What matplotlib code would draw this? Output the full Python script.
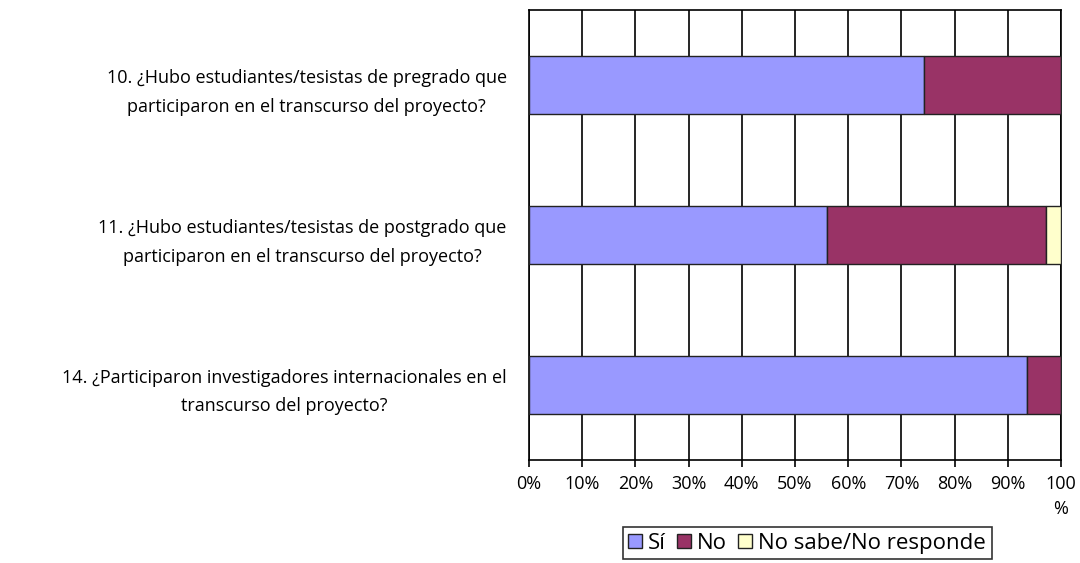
import numpy as np
import matplotlib.pyplot as plt

plt.rcParams['font.family'] = ['Open Sans', 'DejaVu Sans']

preguntas = [
    "10. ¿Hubo estudiantes/tesistas de pregrado que\nparticiparon en el transcurso del proyecto?",
    "11. ¿Hubo estudiantes/tesistas de postgrado que\nparticiparon en el transcurso del proyecto?",
    "14. ¿Participaron investigadores internacionales en el\ntranscurso del proyecto?",
]
si = [74.2, 56.0, 93.7]
no = [25.8, 41.2, 6.3]
ns_nr = [0.0, 2.8, 0.0]

series = ["Sí", "No", "No sabe/No responde"]
colores = ["#9999FF", "#993366", "#FFFFCC"]
ticks_x = [0, 10, 20, 30, 40, 50, 60, 70, 80, 90, 100]
tick_labels = ["0%", "10%", "20%", "30%", "40%", "50%", "60%", "70%", "80%", "90%", "100\n%"]

fig = plt.figure(figsize=(10.8, 5.63), dpi=100)
ax = fig.add_axes([0.4898, 0.183, 0.4926, 0.799])

y = np.arange(len(preguntas))
left = np.zeros(len(preguntas))
for vals, nombre, col in zip([si, no, ns_nr], series, colores):
    ax.barh(y, vals, left=left, height=0.39, color=col, edgecolor="#222222",
            linewidth=1.0, label=nombre, zorder=3)
    left += np.array(vals)

ax.set_xlim(0, 100)
ax.set_ylim(2.5, -0.5)
ax.set_xticks(ticks_x)
ax.set_xticklabels(tick_labels, fontsize=13, va="top", linespacing=1.5)
ax.set_yticks(y)
ax.set_yticklabels(preguntas, fontsize=13, multialignment="center", linespacing=1.75)
ax.tick_params(axis="y", length=0, pad=16)
ax.tick_params(axis="x", direction="out", length=5, width=1.2, pad=6)
ax.grid(axis="x", color="black", linewidth=1.2, zorder=0)
for s in ax.spines.values():
    s.set_linewidth(1.2)
    s.set_color("black")

leg = ax.legend(loc="upper center", bbox_to_anchor=(0.523, -0.125), ncol=3,
                fontsize=16, frameon=True, fancybox=False, edgecolor="black",
                handlelength=0.6, handleheight=0.6, handletextpad=0.3,
                columnspacing=0.5, borderpad=0.25)
leg.get_frame().set_linewidth(1.2)

fig.savefig("out.png", dpi=100)
